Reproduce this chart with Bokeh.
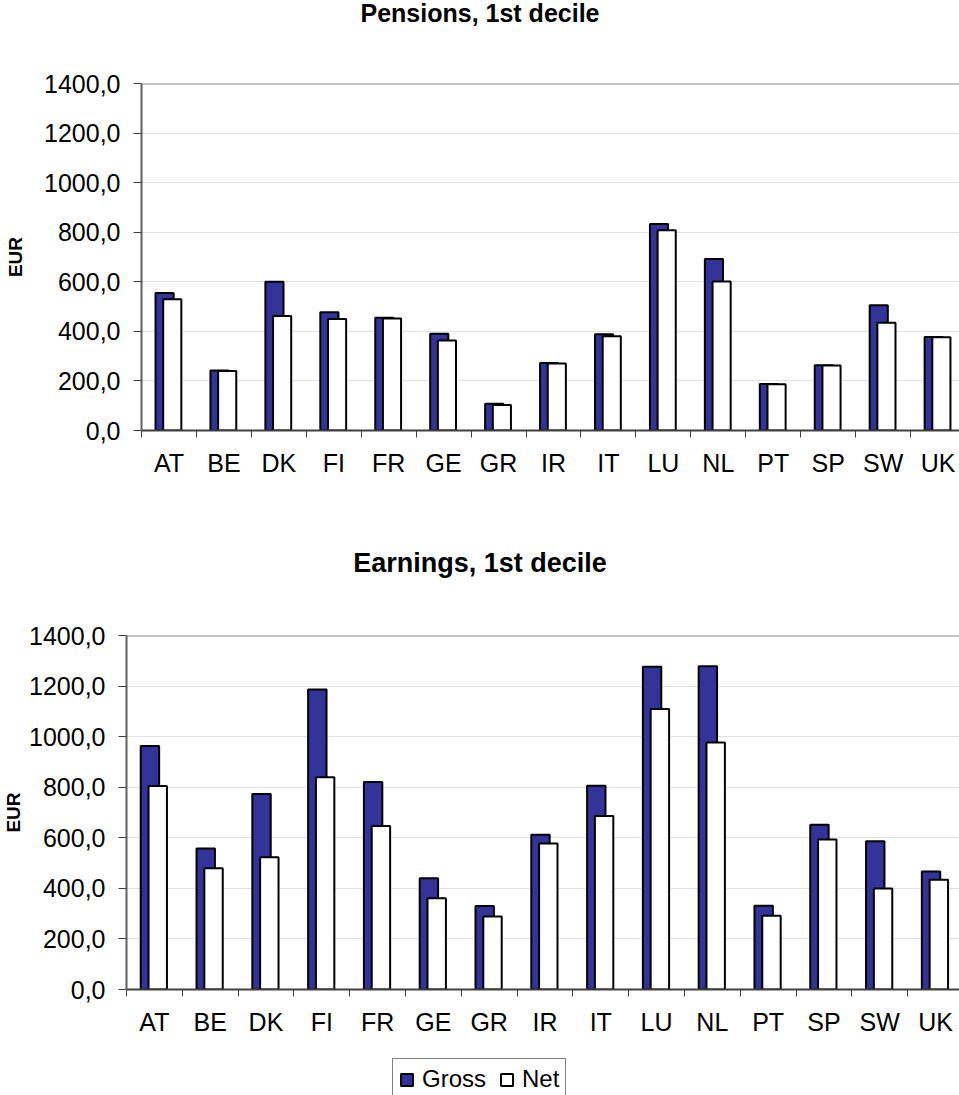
from bokeh.plotting import figure
from bokeh.layouts import column, row
from bokeh.models import Range1d, FixedTicker, Span, Label, Legend, LegendItem, ColumnDataSource
from bokeh.transform import dodge
from bokeh.embed import file_html
from bokeh.resources import INLINE

# Monthly amounts in EUR, first decile
countries = ["AT", "BE", "DK", "FI", "FR", "GE", "GR", "IR", "IT", "LU", "NL", "PT", "SP", "SW", "UK"]
pension_gross = [555, 242, 600, 477, 455, 390, 108, 272, 388, 833, 692, 188, 263, 505, 377]
pension_net = [530, 240, 462, 450, 452, 363, 103, 270, 380, 808, 601, 187, 262, 435, 376]
earnings_gross = [963, 558, 773, 1186, 821, 440, 330, 612, 806, 1276, 1278, 331, 652, 586, 467]
earnings_net = [805, 480, 523, 839, 647, 361, 289, 577, 686, 1109, 977, 292, 593, 399, 434]
y_ticks = [0, 200, 400, 600, 800, 1000, 1200, 1400]
y_tick_labels = ["0,0", "200,0", "400,0", "600,0", "800,0", "1000,0", "1200,0", "1400,0"]
series_names = ["Gross", "Net"]

FONT = "Liberation Sans"
GROSS_COLOR = "#333399"
NET_COLOR = "white"
W = 959


def blank_strip(height):
    """A figure whose frame fills the whole canvas, used for headings and the key."""
    s = figure(width=W, height=height, output_backend="svg", toolbar_location=None,
               x_axis_type=None, y_axis_type=None, title=None,
               x_range=Range1d(0, W), y_range=Range1d(height, 0),
               min_border=0, min_border_left=0, min_border_right=0,
               min_border_top=0, min_border_bottom=0)
    s.outline_line_color = None
    s.grid.visible = False
    return s


def heading(text, height, baseline, size):
    s = blank_strip(height)
    s.add_layout(Label(x=W / 2, y=baseline, text=text, text_align="center",
                       text_baseline="alphabetic", text_font=FONT, text_font_size=size,
                       text_font_style="bold", text_color="black"))
    return s


def bar_chart(gross, net, height, border_left, border_top, border_bottom,
              x_end, label_standoff):
    idx = list(range(len(countries)))
    src = ColumnDataSource(dict(idx=idx, country=countries, gross=gross, net=net))

    p = figure(width=W, height=height, output_backend="svg", toolbar_location=None, title=None,
               x_range=Range1d(0, x_end), y_range=Range1d(0, 1400),
               min_border_left=border_left, min_border_right=0,
               min_border_top=border_top, min_border_bottom=border_bottom)
    p.outline_line_color = None

    p.vbar(x=dodge("idx", 0.42), top="gross", width=0.33, source=src,
           fill_color=GROSS_COLOR, line_color="black", line_width=2)
    p.vbar(x=dodge("idx", 0.56), top="net", width=0.33, source=src,
           fill_color=NET_COLOR, line_color="black", line_width=2)

    # category axis: names centred in each slot, ticks on the slot boundaries
    xa = p.xaxis[0]
    xa.ticker = FixedTicker(ticks=[i + 0.5 for i in idx],
                            minor_ticks=list(range(len(countries) + 1)))
    xa.major_label_overrides = {i + 0.5: c for i, c in zip(idx, countries)}
    xa.major_tick_out = 0
    xa.major_tick_in = 0
    xa.minor_tick_out = 7
    xa.minor_tick_in = 0
    xa.minor_tick_line_color = "#404040"
    xa.minor_tick_line_width = 1
    xa.major_label_standoff = 11
    xa.major_label_text_font = FONT
    xa.major_label_text_font_size = "25px"
    xa.major_label_text_color = "black"
    xa.axis_line_color = "#404040"
    xa.axis_line_width = 2

    ya = p.yaxis[0]
    ya.ticker = FixedTicker(ticks=y_ticks)
    ya.major_label_overrides = {t: s for t, s in zip(y_ticks, y_tick_labels)}
    ya.major_tick_out = 8
    ya.major_tick_in = 0
    ya.minor_tick_out = 0
    ya.minor_tick_in = 0
    ya.major_tick_line_color = "#404040"
    ya.major_label_standoff = 13
    ya.major_label_text_font = FONT
    ya.major_label_text_font_size = "25px"
    ya.major_label_text_color = "black"
    ya.axis_line_color = "#606060"
    ya.axis_line_width = 2
    ya.axis_label = "EUR"
    ya.axis_label_standoff = label_standoff
    ya.axis_label_text_font = FONT
    ya.axis_label_text_font_size = "19px"
    ya.axis_label_text_font_style = "bold"
    ya.axis_label_text_color = "black"

    p.xgrid.visible = False
    p.ygrid.ticker = FixedTicker(ticks=y_ticks)
    p.ygrid.grid_line_color = "#e2e2e2"
    p.ygrid.grid_line_width = 1

    # frame top edge
    p.add_layout(Span(location=y_ticks[-1], dimension="width", line_color="#8c8c8c", line_width=2))
    return p


def key_strip(height):
    s = blank_strip(height)
    # swatch renderers for the key only; they are not drawn in the strip itself
    g = s.vbar(x=[0], top=[earnings_gross[0]], width=1, fill_color=GROSS_COLOR,
               line_color="black", line_width=2, visible=False)
    n = s.vbar(x=[0], top=[earnings_net[0]], width=1, fill_color=NET_COLOR,
               line_color="black", line_width=2, visible=False)
    legend = Legend(items=[LegendItem(label=series_names[0], renderers=[g]),
                           LegendItem(label=series_names[1], renderers=[n])],
                    orientation="horizontal", location=(392, -5),
                    glyph_width=15, glyph_height=15, label_standoff=8, spacing=13,
                    padding=6, margin=0, label_text_font=FONT,
                    label_text_font_size="24px", label_text_color="black",
                    border_line_color="black", border_line_width=1,
                    background_fill_color="white", background_fill_alpha=1,
                    inactive_fill_alpha=0)
    s.add_layout(legend, "center")
    return s


pensions_title = heading("Pensions, 1st decile", 40, 12, "25px")
pensions = bar_chart(pension_gross, pension_net, 480, 141, 43, 90, 14.89, 15)
earnings_title = heading("Earnings, 1st decile", 80, 42, "27px")
earnings = bar_chart(earnings_gross, earnings_net, 440, 124, 35, 51, 14.93, 2)
key = key_strip(55)

# each block sits in its own row so that the frames keep their own borders
layout = column(row(pensions_title), row(pensions), row(earnings_title),
                row(earnings), row(key), spacing=0)
open("out.html", "w").write(file_html(layout, INLINE))
